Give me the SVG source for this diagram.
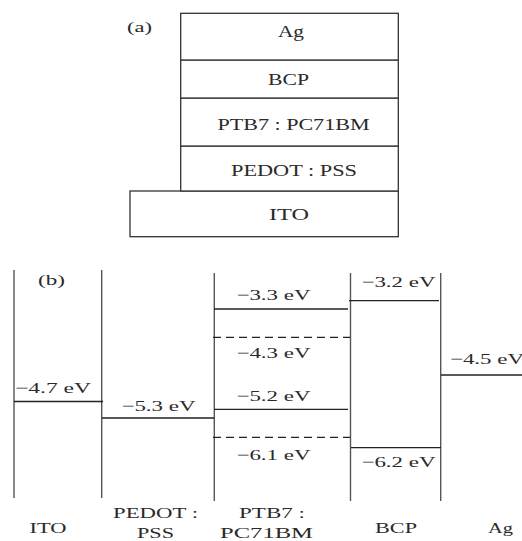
<svg xmlns="http://www.w3.org/2000/svg" width="522" height="541" viewBox="0 0 522 541">
<style>
text{font-family:"Liberation Serif","DejaVu Serif",serif;fill:#2a2a2a}
.a{font-size:17px;text-anchor:middle}
.b{font-size:15px}
.c{font-size:15px;text-anchor:middle}
.box{fill:#fff;stroke:#333;stroke-width:1.3}
.v{stroke:#555;stroke-width:1.4;fill:none}
.h{stroke:#222;stroke-width:1.3;fill:none}
.d{stroke:#222;stroke-width:1.3;fill:none;stroke-dasharray:8 5}
</style>
<rect width="522" height="541" fill="#fff"/>
<g id="panel-a">
<text x="127" y="32" font-size="15" textLength="25" lengthAdjust="spacingAndGlyphs">(a)</text>
<g id="layer-ito"><rect class="box" x="130" y="191" width="268.3" height="45.7"/><text class="a" x="289" y="220" textLength="40" lengthAdjust="spacingAndGlyphs">ITO</text></g>
<g id="layer-pedot"><rect class="box" x="180.7" y="146" width="217.6" height="45"/><text class="a" x="294" y="176" textLength="126" lengthAdjust="spacingAndGlyphs">PEDOT : PSS</text></g>
<g id="layer-ptb7"><rect class="box" x="180.7" y="98" width="217.6" height="48"/><text class="a" x="293.5" y="130" textLength="152" lengthAdjust="spacingAndGlyphs">PTB7 : PC71BM</text></g>
<g id="layer-bcp"><rect class="box" x="180.7" y="60" width="217.6" height="38"/><text class="a" x="288.5" y="85" textLength="41" lengthAdjust="spacingAndGlyphs">BCP</text></g>
<g id="layer-ag"><rect class="box" x="180.7" y="13.3" width="217.6" height="46.7"/><text class="a" x="291" y="37" textLength="26" lengthAdjust="spacingAndGlyphs">Ag</text></g>
</g>
<g id="panel-b">
<text class="b" x="38" y="285" textLength="27" lengthAdjust="spacingAndGlyphs">(b)</text>
<g id="connectors">
<line class="v" x1="14" y1="270" x2="14" y2="498"/>
<line class="v" x1="101.7" y1="270" x2="101.7" y2="498"/>
<line class="v" x1="214.3" y1="273" x2="214.3" y2="501"/>
<line class="v" x1="350.5" y1="273" x2="350.5" y2="501"/>
<line class="v" x1="440.7" y1="273" x2="440.7" y2="501"/>
<line class="h" x1="14" y1="401.5" x2="103" y2="401.5"/>
<line class="h" x1="102" y1="418" x2="214" y2="418"/>
<line class="h" x1="214" y1="309" x2="348" y2="309"/>
<line class="d" x1="213" y1="337.3" x2="350" y2="337.3"/>
<line class="h" x1="214" y1="409.3" x2="348" y2="409.3"/>
<line class="d" x1="213" y1="437.3" x2="350" y2="437.3"/>
<line class="h" x1="349" y1="300.7" x2="439" y2="300.7"/>
<line class="h" x1="351" y1="447.7" x2="441" y2="447.7"/>
<line class="h" x1="441" y1="375" x2="522" y2="375"/>
</g>
<g id="level-ito"><text class="b" x="15" y="392.5" textLength="76" lengthAdjust="spacingAndGlyphs">−4.7 eV</text></g>
<g id="level-pedot"><text class="b" x="121.5" y="410.5" textLength="74" lengthAdjust="spacingAndGlyphs">−5.3 eV</text></g>
<g id="level-ptb7">
<text class="b" x="236.5" y="300" textLength="74" lengthAdjust="spacingAndGlyphs">−3.3 eV</text>
<text class="b" x="236.5" y="358.3" textLength="74" lengthAdjust="spacingAndGlyphs">−4.3 eV</text>
<text class="b" x="236.5" y="401" textLength="74" lengthAdjust="spacingAndGlyphs">−5.2 eV</text>
<text class="b" x="236.5" y="459.5" textLength="74" lengthAdjust="spacingAndGlyphs">−6.1 eV</text>
</g>
<g id="level-bcp">
<text class="b" x="361.5" y="287" textLength="74" lengthAdjust="spacingAndGlyphs">−3.2 eV</text>
<text class="b" x="361.5" y="466.5" textLength="74" lengthAdjust="spacingAndGlyphs">−6.2 eV</text>
</g>
<g id="level-ag"><text class="b" x="450" y="364" textLength="74" lengthAdjust="spacingAndGlyphs">−4.5 eV</text></g>
<g id="labels">
<text class="c" x="48" y="533" textLength="37" lengthAdjust="spacingAndGlyphs">ITO</text>
<text class="c" x="155.5" y="518" textLength="85" lengthAdjust="spacingAndGlyphs">PEDOT :</text>
<text class="c" x="155.5" y="537.5" textLength="37" lengthAdjust="spacingAndGlyphs">PSS</text>
<text class="c" x="272" y="518" textLength="66" lengthAdjust="spacingAndGlyphs">PTB7 :</text>
<text class="c" x="266.5" y="537.5" textLength="93" lengthAdjust="spacingAndGlyphs">PC71BM</text>
<text class="c" x="396" y="533" textLength="42" lengthAdjust="spacingAndGlyphs">BCP</text>
<text class="c" x="500.5" y="533" textLength="25" lengthAdjust="spacingAndGlyphs">Ag</text>
</g>
</g>
</svg>
